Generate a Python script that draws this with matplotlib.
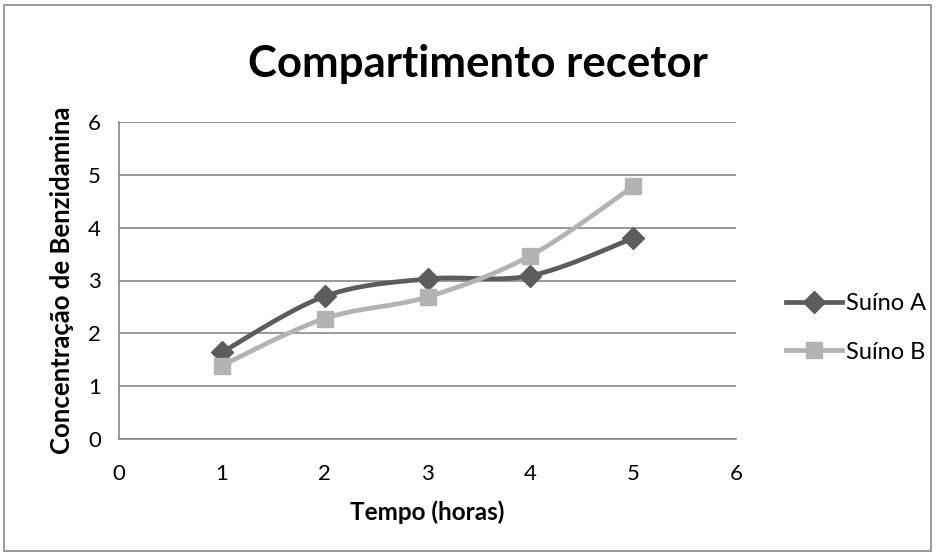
import numpy as np
import matplotlib.pyplot as plt
from matplotlib.patches import Rectangle
from matplotlib.lines import Line2D

# dados
tempo = [1, 2, 3, 4, 5]
suino_a = [1.64, 2.70, 3.03, 3.09, 3.80]
suino_b = [1.39, 2.28, 2.69, 3.47, 4.78]


# curva suavizada tipo Excel (bezier com pontos de controle Catmull-Rom)
def suavizar(x, y, n=30):
    x = np.asarray(x, float)
    y = np.asarray(y, float)
    px = np.concatenate([[x[0]], x, [x[-1]]])
    py = np.concatenate([[y[0]], y, [y[-1]]])
    xs, ys = [], []
    t = np.linspace(0, 1, n)
    for i in range(1, len(px) - 2):
        p0 = np.array([px[i], py[i]])
        p3 = np.array([px[i + 1], py[i + 1]])
        p1 = p0 + (np.array([px[i + 1], py[i + 1]]) - np.array([px[i - 1], py[i - 1]])) / 6
        p2 = p3 - (np.array([px[i + 2], py[i + 2]]) - np.array([px[i], py[i]])) / 6
        b = ((1 - t) ** 3)[:, None] * p0 + (3 * (1 - t) ** 2 * t)[:, None] * p1 \
            + (3 * (1 - t) * t ** 2)[:, None] * p2 + (t ** 3)[:, None] * p3
        xs.extend(b[:, 0])
        ys.extend(b[:, 1])
    return xs, ys


plt.rcParams['font.family'] = ['Lato', 'DejaVu Sans']

fig = plt.figure(figsize=(9.36, 5.55), dpi=100)
ax = fig.add_axes([119 / 936, 1 - 439 / 555, (736 - 119) / 936, (439 - 122) / 555])

cor_a = '#5c5c5c'
cor_b = '#b3b3b3'
lw = 3.4

xa, ya = suavizar(tempo, suino_a)
xb, yb = suavizar(tempo, suino_b)
ax.plot(xa, ya, color=cor_a, lw=lw, zorder=3)
ax.plot(tempo, suino_a, ls='none', marker='D', ms=11, color=cor_a, zorder=4)
ax.plot(xb, yb, color=cor_b, lw=lw, zorder=3)
ax.plot(tempo, suino_b, ls='none', marker='s', ms=12, color=cor_b, zorder=4)

ax.set_xlim(0, 6)
ax.set_ylim(0, 6)
ax.set_xticks(range(0, 7))
ax.set_yticks(range(0, 7))
ax.grid(axis='y', color='#878787', lw=1.2)
ax.set_axisbelow(True)
for s in ['top', 'right']:
    ax.spines[s].set_visible(False)
ax.spines['left'].set_color('#878787')
ax.spines['bottom'].set_color('#878787')
ax.spines['left'].set_linewidth(1.2)
ax.spines['bottom'].set_linewidth(1.2)
ax.tick_params(axis='y', length=0, labelsize=16, pad=13)
ax.tick_params(axis='x', length=0, labelsize=16, pad=18)

ax.set_xlabel('Tempo (horas)', fontsize=17.5, fontweight='bold', labelpad=12)
ax.set_ylabel('Concentração de Benzidamina', fontsize=18.5, fontweight='bold', labelpad=10)

fig.text(478 / 936, 1 - 64 / 555, 'Compartimento recetor', ha='center', va='center',
         fontsize=31.5, fontweight='bold')

# legenda
handles = [Line2D([], [], color=cor_a, lw=lw, marker='D', ms=11),
           Line2D([], [], color=cor_b, lw=lw, marker='s', ms=12)]
fig.legend(handles, ['Suíno A', 'Suíno B'], loc='center left',
           bbox_to_anchor=(774 / 936, 1 - 328 / 555),
           frameon=False, fontsize=17, handlelength=2.4, labelspacing=1.15,
           handletextpad=0.15, borderpad=0)

fig.patches.append(Rectangle((4 / 936, 4 / 555), 927 / 936, 546 / 555, transform=fig.transFigure,
                             fill=False, edgecolor='#878787', lw=1.2))

fig.savefig('out.png', dpi=100)
